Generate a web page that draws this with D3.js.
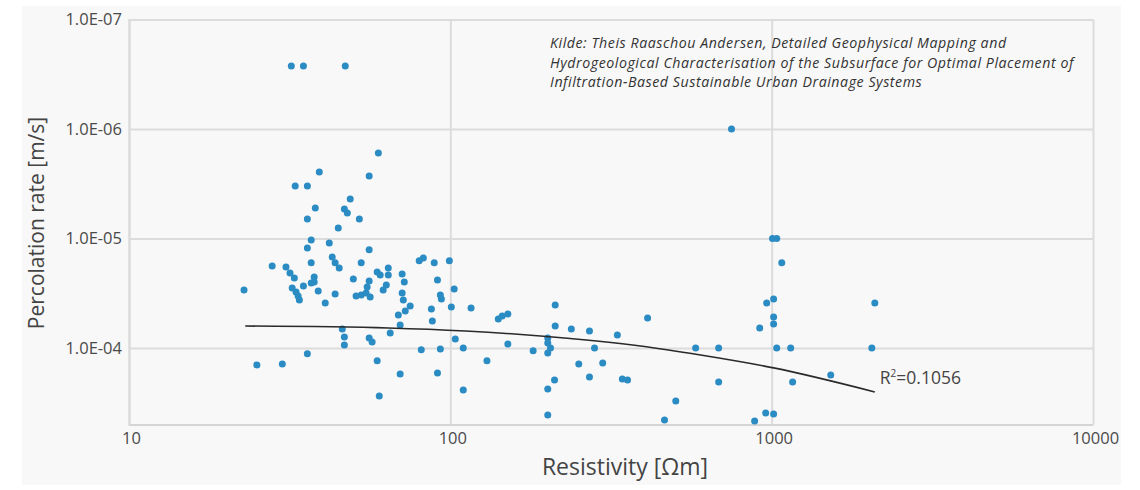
<!DOCTYPE html>
<html>
<head>
<meta charset="utf-8">
<script src="https://cdn.jsdelivr.net/npm/d3@7"></script>
<style>
  body { margin: 0; background: #fff; }
  text { font-family: "Open Sans", sans-serif; }
</style>
</head>
<body>
<svg id="chart" width="1140" height="490"></svg>
<script>
// resistivity [Ohm m] and percolation rate [m/s]
const resistivity = [
  22.8, 25.0, 27.9, 30.0, 30.8, 31.7, 32.7, 32.2, 33.1, 33.6,
  33.9, 32.0, 34.9, 47.1, 32.9, 35.9, 34.9, 35.9, 36.9, 35.9,
  35.9, 36.9, 36.9, 37.7, 37.7, 38.0, 38.8, 39.1, 40.8, 42.0,
  42.9, 43.8, 45.1, 43.8, 44.8, 46.1, 46.8, 46.8, 46.8, 47.8,
  48.8, 49.9, 50.9, 52.8, 54.7, 56.3, 55.1, 55.9, 52.1, 52.8,
  55.9, 55.9, 55.9, 57.1, 59.2, 59.2, 59.7, 60.1, 60.5, 61.8,
  63.2, 64.1, 64.1, 65.0, 68.9, 69.8, 69.8, 70.8, 71.9, 70.8,
  71.4, 75.0, 72.4, 80.0, 82.4, 81.2, 87.3, 87.9, 89.1, 91.2,
  91.2, 93.1, 93.8, 93.1, 99.3, 100.7, 102.8, 103.6, 109.7, 109.7,
  116, 130, 141, 145, 151, 151, 181, 201, 201, 205,
  201, 201, 211, 201, 212, 212, 238, 251, 271, 271,
  281, 298, 331, 343, 356, 411, 464, 503, 580, 684,
  684, 750, 885, 918, 958, 965, 1006, 1037, 1014, 1014,
  1014, 1014, 1037, 1075, 1146, 1162, 1527, 2050, 2094
];
const percolation = [
  2.95e-5, 1.43e-4, 1.78e-5, 1.40e-4, 1.82e-5, 2.07e-5, 2.29e-5, 2.83e-5, 3.08e-5, 3.35e-5,
  3.65e-5, 2.66e-7, 2.66e-7, 2.66e-7, 3.32e-6, 3.32e-6, 2.71e-5, 1.22e-5, 1.03e-5, 6.64e-6,
  1.13e-4, 1.67e-5, 2.55e-5, 2.25e-5, 2.50e-5, 5.27e-6, 3.02e-5, 2.47e-6, 3.88e-5, 1.10e-5,
  1.48e-5, 1.67e-5, 1.86e-5, 3.21e-5, 8.02e-6, 6.70e-5, 7.94e-5, 9.39e-5, 5.38e-6, 5.85e-6,
  4.36e-6, 2.34e-5, 3.35e-5, 3.28e-5, 3.15e-5, 3.42e-5, 2.77e-5, 2.44e-5, 6.64e-6, 1.67e-5,
  2.69e-6, 1.27e-5, 8.11e-5, 8.82e-5, 2.02e-5, 1.31e-4, 1.66e-6, 2.74e-4, 2.15e-5, 2.95e-5,
  2.66e-5, 1.86e-5, 2.15e-5, 7.29e-5, 5.00e-5, 6.17e-5, 1.73e-4, 2.11e-5, 2.50e-5, 3.15e-5,
  3.65e-5, 4.13e-5, 4.59e-5, 1.60e-5, 1.51e-5, 1.04e-4, 4.40e-5, 5.67e-5, 1.67e-5, 2.39e-5,
  1.69e-4, 3.28e-5, 3.57e-5, 1.02e-4, 1.60e-5, 4.22e-5, 2.89e-5, 8.28e-5, 2.42e-4, 1.00e-4,
  4.31e-5, 1.31e-4, 5.43e-5, 5.10e-5, 4.89e-5, 9.19e-5, 1.06e-4, 8.11e-5, 9.00e-5, 1.00e-4,
  1.11e-4, 2.37e-4, 1.96e-4, 4.09e-4, 4.05e-5, 6.30e-5, 6.70e-5, 1.40e-4, 7.00e-5, 1.84e-4,
  1.00e-4, 1.37e-4, 7.61e-5, 1.92e-4, 1.96e-4, 5.32e-5, 4.55e-4, 3.05e-4, 1.00e-4, 1.00e-4,
  2.05e-4, 1.00e-6, 4.65e-4, 6.57e-5, 3.92e-4, 3.88e-5, 1.00e-5, 1.00e-5, 3.57e-5, 5.21e-5,
  6.04e-5, 4.01e-4, 1.00e-4, 1.67e-5, 1.00e-4, 2.05e-4, 1.77e-4, 1.00e-4, 3.88e-5
];

// trend curve
const trendResistivity = [23.0, 64.1, 111.4, 190.8, 390.8, 601, 1014, 2094];
const trendPercolation = [6.30e-5, 6.57e-5, 7.00e-5, 7.77e-5, 9.59e-5, 1.16e-4, 1.52e-4, 2.52e-4];
const rSquared = '0.1056';

const xTicks = [10, 100, 1000, 10000];
const yTicks = [1e-7, 1e-6, 1e-5, 1e-4];
const yTickLabels = ['1.0E-07', '1.0E-06', '1.0E-05', '1.0E-04'];

const sourceLines = [
  'Kilde: Theis Raaschou Andersen, Detailed Geophysical Mapping and',
  'Hydrogeological Characterisation of the Subsurface for Optimal Placement of',
  'Infiltration-Based Sustainable Urban Drainage Systems'
];

main();

function main () {
  const svg = d3.select('svg#chart');

  const left = 129;
  const right = 1093;
  const top = 19.5;
  const bottom = 424.5;

  // light panel behind the chart
  svg.append('rect')
    .attr('x', 22).attr('y', 6)
    .attr('width', 1099).attr('height', 479)
    .attr('fill', '#f8f8f8');

  const x = d3.scaleLog().domain([10, 10000]).range([left, right]);
  const y = d3.scaleLog().domain([1e-7, 5e-4]).range([top, bottom]);

  // horizontal grid + y labels
  const yAxis = svg.append('g')
    .attr('transform', `translate(${left},0)`)
    .call(d3.axisLeft(y)
      .tickValues(yTicks)
      .tickSize(-(right - left))
      .tickPadding(7)
      .tickFormat((d, i) => yTickLabels[i]));
  yAxis.select('.domain').attr('stroke', '#d4d4d4').attr('stroke-width', 2);
  yAxis.selectAll('.tick line').attr('stroke', '#dcdcdc').attr('stroke-width', 2);
  yAxis.selectAll('.tick text')
    .attr('fill', '#4a4a4a')
    .style('font-size', '16.5px');

  // vertical grid + x labels
  const xAxis = svg.append('g')
    .attr('transform', `translate(0,${bottom})`)
    .call(d3.axisBottom(x)
      .tickValues(xTicks)
      .tickSize(-(bottom - top))
      .tickSizeOuter(0)
      .tickPadding(8)
      .tickFormat(d3.format('d')));
  xAxis.select('.domain').attr('stroke', '#d4d4d4').attr('stroke-width', 2);
  xAxis.selectAll('.tick line').attr('stroke', '#dcdcdc').attr('stroke-width', 2);
  xAxis.selectAll('.tick text')
    .attr('fill', '#4a4a4a')
    .attr('dx', 2)
    .style('font-size', '16.5px');

  // axis titles
  svg.append('text')
    .text('Percolation rate [m/s]')
    .attr('transform', 'translate(44,223) rotate(-90)')
    .attr('text-anchor', 'middle')
    .attr('fill', '#444')
    .style('font-size', '21px');
  svg.append('text')
    .text('Resistivity [Ωm]')
    .attr('x', 625).attr('y', 475)
    .attr('text-anchor', 'middle')
    .attr('fill', '#444')
    .style('font-size', '23px');

  // points
  const points = d3.zip(resistivity, percolation);
  svg.append('g')
    .selectAll('circle')
    .data(points)
    .join('circle')
    .attr('cx', d => x(d[0]))
    .attr('cy', d => y(d[1]))
    .attr('r', 3.5)
    .attr('fill', '#2b8cc4');

  // trend curve
  const trend = d3.zip(trendResistivity, trendPercolation);
  const line = d3.line()
    .x(d => x(d[0]))
    .y(d => y(d[1]))
    .curve(d3.curveMonotoneX);
  svg.append('path')
    .attr('d', line(trend))
    .attr('fill', 'none')
    .attr('stroke', '#2a2a2a')
    .attr('stroke-width', 1.6);

  // R² label next to the end of the curve
  const last = trend[trend.length - 1];
  const r2 = svg.append('text')
    .attr('x', x(last[0]) + 5)
    .attr('y', y(last[1]) - 8)
    .attr('fill', '#444')
    .style('font-size', '17.5px');
  r2.append('tspan').text('R');
  r2.append('tspan').text('2').attr('dy', -7).style('font-size', '10px');
  r2.append('tspan').text('=' + rSquared).attr('dy', 7);

  // source note
  svg.append('g')
    .selectAll('text')
    .data(sourceLines)
    .join('text')
    .text(d => d)
    .attr('x', 550)
    .attr('y', (d, i) => 48 + i * 19.5)
    .attr('fill', '#333')
    .style('font-style', 'italic')
    .style('font-size', '14.2px')
    .style('letter-spacing', '0.55px');
}
</script>
</body>
</html>
